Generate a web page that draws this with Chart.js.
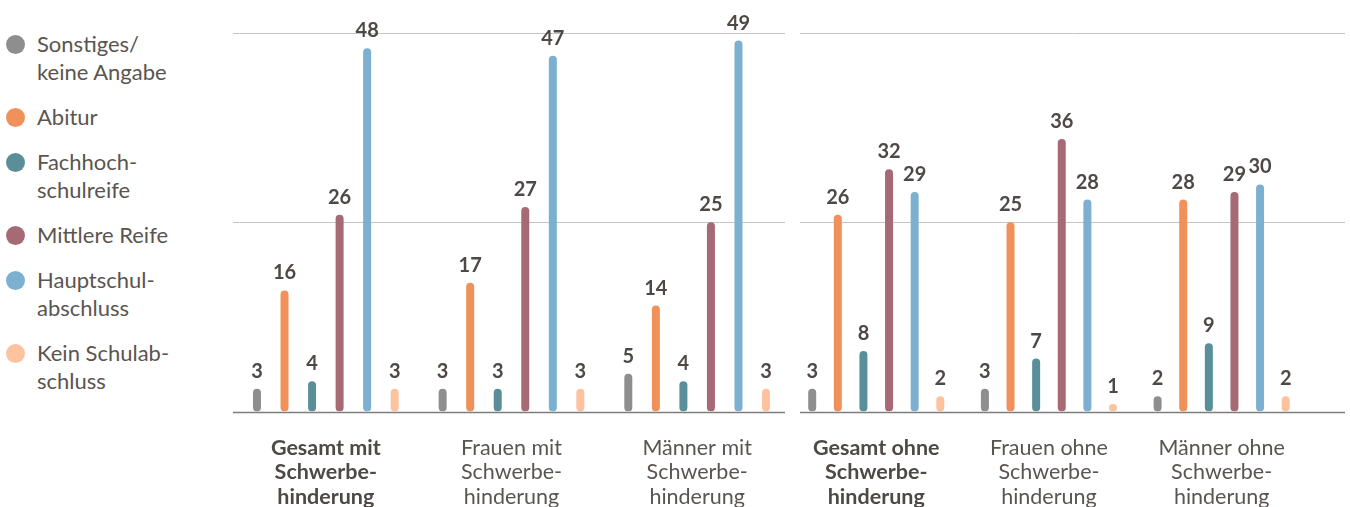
<!DOCTYPE html>
<html lang="de">
<head>
<meta charset="UTF-8" />
<title>Schulabschlüsse mit und ohne Schwerbehinderung</title>
<script src="https://cdn.jsdelivr.net/npm/chart.js"></script>
<style>
  body {
    margin: 0;
    width: 1350px;
    height: 507px;
    overflow: hidden;
    background: #fff;
    font-family: Lato, sans-serif;
    position: relative;
  }
  .legend {
    position: absolute;
    left: 0;
    top: 30px;
  }
  .legend-item {
    display: flex;
    margin-bottom: 17px;
  }
  .dot {
    flex: none;
    width: 19px;
    height: 19px;
    border-radius: 50%;
    margin: 5px 12px 0 6px;
  }
  .legend-text {
    font-size: 22px;
    line-height: 28px;
    color: #5a5550;
  }
  .panel {
    position: absolute;
    top: 0;
    height: 533px;
  }
  #leftPanel { left: 233px; width: 557px; }
  #rightPanel { left: 789px; width: 561px; }
</style>
</head>
<body>
<div class="legend" id="legend"></div>
<div class="panel" id="leftPanel"><canvas id="leftChart"></canvas></div>
<div class="panel" id="rightPanel"><canvas id="rightChart"></canvas></div>

<script>
// series (education level) names, as shown in the legend
const legendLines = [
  ["Sonstiges/", "keine Angabe"],
  ["Abitur"],
  ["Fachhoch-", "schulreife"],
  ["Mittlere Reife"],
  ["Hauptschul-", "abschluss"],
  ["Kein Schulab-", "schluss"]
];
const seriesColors = ["#8e8e8e", "#f0905a", "#5a8f99", "#a66a77", "#7bb0d0", "#fcc39e"];

const leftCategories = [
  ["Gesamt mit", "Schwerbe-", "hinderung"],
  ["Frauen mit", "Schwerbe-", "hinderung"],
  ["Männer mit", "Schwerbe-", "hinderung"]
];
const rightCategories = [
  ["Gesamt ohne", "Schwerbe-", "hinderung"],
  ["Frauen ohne", "Schwerbe-", "hinderung"],
  ["Männer ohne", "Schwerbe-", "hinderung"]
];

// mit Schwerbehinderung (Gesamt, Frauen, Männer), in %
const mitSonstiges = [3, 3, 5];
const mitAbitur = [16, 17, 14];
const mitFachhochschulreife = [4, 3, 4];
const mitMittlereReife = [26, 27, 25];
const mitHauptschulabschluss = [48, 47, 49];
const mitKeinAbschluss = [3, 3, 3];

// ohne Schwerbehinderung (Gesamt, Frauen, Männer), in %
const ohneSonstiges = [3, 3, 2];
const ohneAbitur = [26, 25, 28];
const ohneFachhochschulreife = [8, 7, 9];
const ohneMittlereReife = [32, 36, 29];
const ohneHauptschulabschluss = [29, 28, 30];
const ohneKeinAbschluss = [2, 1, 2];

const yGridValues = [25, 50];

// legend (html)
const legendEl = document.getElementById("legend");
legendLines.forEach((lines, i) => {
  const item = document.createElement("div");
  item.className = "legend-item";
  item.innerHTML =
    '<span class="dot" style="background:' + seriesColors[i] + '"></span>' +
    '<span class="legend-text">' + lines.join("<br>") + "</span>";
  legendEl.appendChild(item);
});

// gridlines, baseline and value labels
const panelLines = {
  id: "panelLines",
  beforeDatasetsDraw(chart, args, opts) {
    const y = chart.scales.y;
    const c = chart.ctx;
    c.save();
    c.strokeStyle = "#c4c4c4";
    c.lineWidth = 1;
    yGridValues.forEach((v) => {
      const py = Math.round(y.getPixelForValue(v)) + 0.5;
      c.beginPath();
      c.moveTo(opts.from, py);
      c.lineTo(opts.to, py);
      c.stroke();
    });
    c.restore();
  },
  afterDatasetsDraw(chart, args, opts) {
    const y = chart.scales.y;
    const c = chart.ctx;
    c.save();
    const py = Math.round(y.getPixelForValue(0)) + 0.5;
    c.strokeStyle = "#7d7d7d";
    c.lineWidth = 1.5;
    c.beginPath();
    c.moveTo(opts.from, py);
    c.lineTo(opts.to, py);
    c.stroke();

    c.fillStyle = "#4e4946";
    c.font = "bold 20px Lato";
    c.textAlign = "center";
    c.textBaseline = "alphabetic";
    chart.data.datasets.forEach((ds, di) => {
      chart.getDatasetMeta(di).data.forEach((bar, i) => {
        c.fillText(String(ds.data[i]), bar.x, bar.y - 11);
      });
    });
    c.restore();
  }
};

function makeChart(id, categories, seriesData, padRight, from, to) {
  return new Chart(document.getElementById(id), {
    type: "bar",
    data: {
      labels: categories,
      datasets: seriesData.map((d, i) => ({
        label: legendLines[i].join(" "),
        data: d,
        backgroundColor: seriesColors[i],
        borderRadius: 4,
        borderSkipped: false,
        maxBarThickness: 8,
        barPercentage: 0.5,
        categoryPercentage: 0.89
      }))
    },
    options: {
      responsive: true,
      maintainAspectRatio: false,
      animation: false,
      layout: { padding: { top: 33, right: padRight, left: 0, bottom: 0 } },
      plugins: {
        legend: { display: false },
        tooltip: { enabled: false },
        panelLines: { from: from, to: to }
      },
      scales: {
        y: { display: false, min: 0, max: 50 },
        x: {
          grid: { display: false, drawTicks: false },
          border: { display: false },
          ticks: {
            padding: 24,
            color: (ctx) => (ctx.index === 0 ? "#4e4946" : "#5a5552"),
            font: (ctx) => ({
              family: "Lato",
              size: 21.5,
              weight: ctx.index === 0 ? "bold" : "normal",
              lineHeight: "24.5px"
            })
          }
        }
      }
    },
    plugins: [panelLines]
  });
}

makeChart("leftChart", leftCategories,
  [mitSonstiges, mitAbitur, mitFachhochschulreife, mitMittlereReife, mitHauptschulabschluss, mitKeinAbschluss],
  0, 0, 552);
makeChart("rightChart", rightCategories,
  [ohneSonstiges, ohneAbitur, ohneFachhochschulreife, ohneMittlereReife, ohneHauptschulabschluss, ohneKeinAbschluss],
  42, 11, 556);
</script>
</body>
</html>
